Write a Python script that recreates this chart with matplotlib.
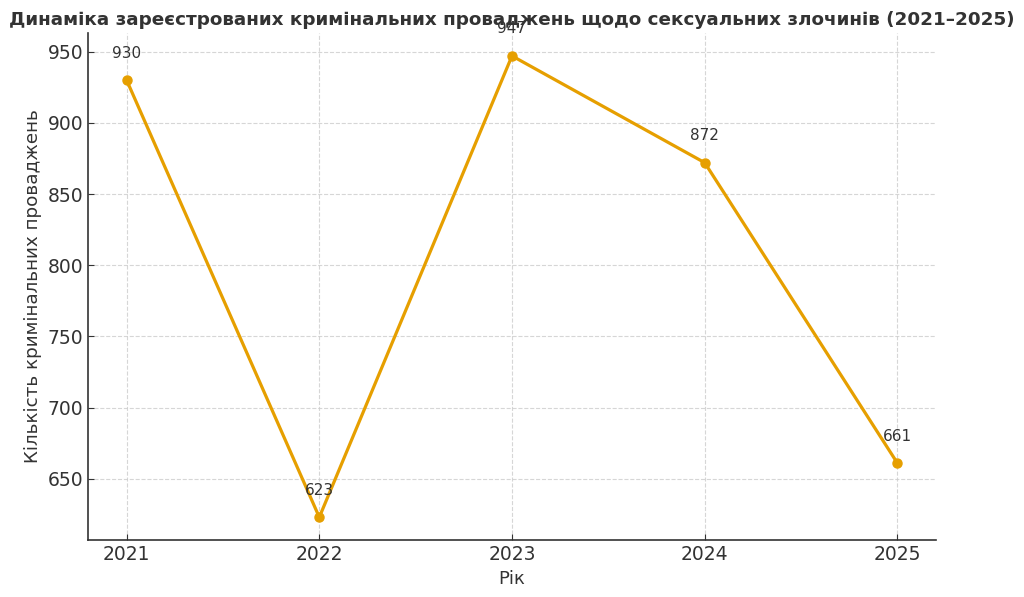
import matplotlib
matplotlib.use("Agg")
import matplotlib.pyplot as plt

years = [2021, 2022, 2023, 2024, 2025]
cases = [930, 623, 947, 872, 661]

title = "Динаміка зареєстрованих кримінальних проваджень щодо сексуальних злочинів (2021–2025)"
xlabel = "Рік"
ylabel = "Кількість кримінальних проваджень"

text_col = "#333333"
line_col = "#E69F00"

fig, ax = plt.subplots(figsize=(10.24, 5.97), dpi=100)
fig.subplots_adjust(left=0.086, right=0.914, top=0.945, bottom=0.095)

ax.plot(years, cases, color=line_col, linewidth=2.3, marker="o", markersize=6.5)

for x, y in zip(years, cases):
    ax.annotate(str(y), (x, y), textcoords="offset points", xytext=(0, 14),
                ha="center", va="bottom", fontsize=11, color=text_col)

ax.set_xticks(years)
ax.set_title(title, fontsize=13.2, fontweight="bold", color=text_col, pad=6)
ax.set_xlabel(xlabel, fontsize=13, color=text_col)
ax.set_ylabel(ylabel, fontsize=13.2, color=text_col)
ax.tick_params(direction="in", labelsize=13.5, colors=text_col, length=4)
ax.grid(True, linestyle="--", color="#cccccc", linewidth=0.8, alpha=0.8)
ax.spines["top"].set_visible(False)
ax.spines["right"].set_visible(False)
for s in ("left", "bottom"):
    ax.spines[s].set_color(text_col)
    ax.spines[s].set_linewidth(1.2)

fig.savefig("out.png", dpi=100)
